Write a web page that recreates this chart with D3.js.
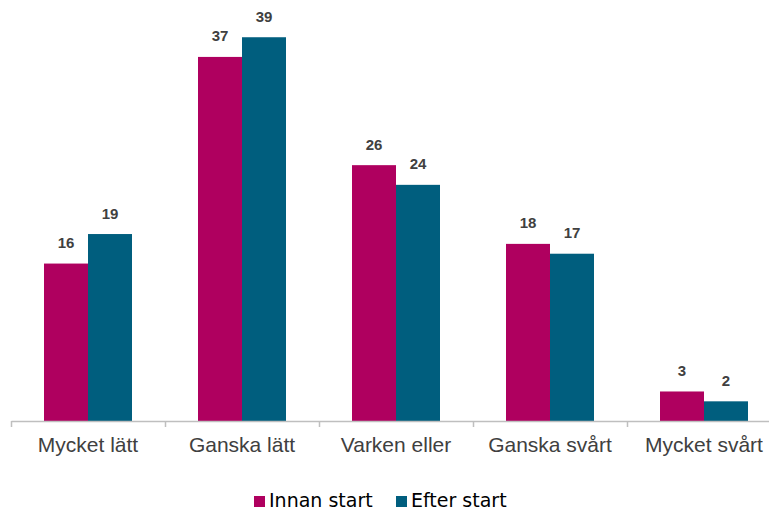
<!DOCTYPE html>
<html>
<head>
<meta charset="utf-8">
<script src="https://cdn.jsdelivr.net/npm/d3@7"></script>
<style>
  body { margin: 0; background: #fff; }
  svg { display: block; }
</style>
</head>
<body>
<div class="chart-container"></div>
<script>
// --- Data ---
const categories = ["Mycket lätt", "Ganska lätt", "Varken eller", "Ganska svårt", "Mycket svårt"];
const seriesNames = ["Innan start", "Efter start"];
const innanStart = [16, 37, 26, 18, 3];
const efterStart = [19, 39, 24, 17, 2];
const colors = ["#AF005F", "#005E7E"];

// --- Configuration ---
const w = 769;
const h = 511;
const left = 11;
const right = 781;   // plot runs past the right edge, like the reference
const baseY = 421;
const topY = 27.4;

const dataset = categories.map(function (c, i) {
    return { cat: c, values: [innanStart[i], efterStart[i]] };
});

// Scales
const x0 = d3.scaleBand()
    .domain(categories)
    .range([left, right])
    .paddingInner(0)
    .paddingOuter(0);

const x1 = d3.scaleBand()
    .domain([0, 1])
    .range([0, x0.bandwidth()])
    .paddingInner(0)
    .paddingOuter(0.75);

const yScale = d3.scaleLinear()
    .domain([0, 40])
    .range([baseY, topY]);

const svg = d3.select(".chart-container")
    .append("svg")
    .attr("width", w)
    .attr("height", h);

// Bars
const groups = svg.selectAll("g.group")
    .data(dataset)
    .enter()
    .append("g")
    .attr("class", "group")
    .attr("transform", function (d) { return "translate(" + x0(d.cat) + ",0)"; });

groups.selectAll("rect")
    .data(function (d) { return d.values.map(function (v, k) { return { k: k, v: v }; }); })
    .enter()
    .append("rect")
    .attr("x", function (d) { return x1(d.k); })
    .attr("y", function (d) { return yScale(d.v); })
    .attr("width", x1.bandwidth())
    .attr("height", function (d) { return baseY - yScale(d.v); })
    .attr("fill", function (d) { return colors[d.k]; });

// Value labels
groups.selectAll("text.val")
    .data(function (d) { return d.values.map(function (v, k) { return { k: k, v: v }; }); })
    .enter()
    .append("text")
    .attr("class", "val")
    .text(function (d) { return d.v; })
    .attr("x", function (d) { return x1(d.k) + x1.bandwidth() / 2; })
    .attr("y", function (d) { return yScale(d.v) - 15.5; })
    .attr("text-anchor", "middle")
    .attr("font-family", "'Liberation Sans', Arial, sans-serif")
    .attr("font-weight", "bold")
    .attr("font-size", "15px")
    .attr("fill", "#404040");

// X axis: line with ticks at group boundaries
const boundary = d3.scaleLinear().domain([0, categories.length]).range([left, right]);
const axisG = svg.append("g")
    .attr("transform", "translate(0," + baseY + ")")
    .call(d3.axisBottom(boundary).ticks(categories.length).tickFormat("").tickSizeOuter(0).tickSizeInner(6));
axisG.select(".domain").attr("stroke", "#BFBFBF").attr("stroke-width", 1.5);
axisG.selectAll(".tick line").attr("stroke", "#BFBFBF").attr("stroke-width", 1.5);

// Category labels
const labelG = svg.append("g")
    .attr("transform", "translate(0," + baseY + ")")
    .call(d3.axisBottom(x0).tickSize(0).tickPadding(0));
labelG.select(".domain").remove();
labelG.selectAll(".tick text")
    .attr("dy", 0)
    .attr("y", 31)
    .attr("font-family", "'Liberation Sans', Arial, sans-serif")
    .attr("font-size", "21px")
    .attr("fill", "#404040");

// Legend
const legendX = [254, 396];
const legend = svg.selectAll("g.legend")
    .data(seriesNames)
    .enter()
    .append("g")
    .attr("class", "legend")
    .attr("transform", function (d, i) { return "translate(" + legendX[i] + ",496)"; });

legend.append("rect")
    .attr("width", 11)
    .attr("height", 11)
    .attr("fill", function (d, i) { return colors[i]; });

legend.append("text")
    .text(function (d) { return d; })
    .attr("x", 15)
    .attr("y", 11)
    .attr("font-family", "'DejaVu Sans', Verdana, sans-serif")
    .attr("font-size", "19px")
    .attr("fill", "#000");
</script>
</body>
</html>
